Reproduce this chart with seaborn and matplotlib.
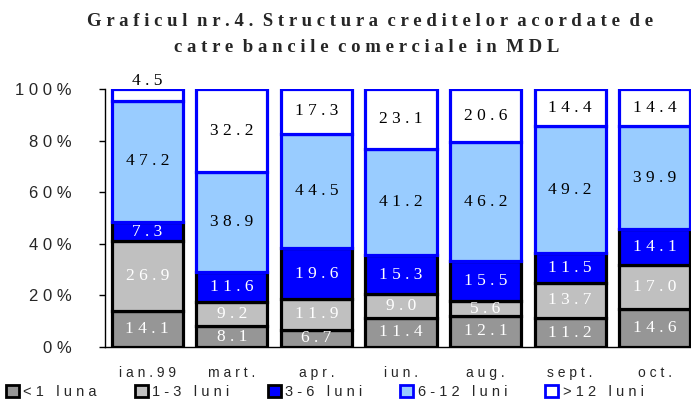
import numpy as np
import pandas as pd
import matplotlib
matplotlib.use("Agg")
import matplotlib.pyplot as plt
from matplotlib.patches import Patch
import seaborn as sns

categories = ["ian.99", "mart.", "apr.", "iun.", "aug.", "sept.", "oct."]
series_names = ["<1 luna", "1-3 luni", "3-6 luni", "6-12 luni", ">12 luni"]
lt1 = [14.1, 8.1, 6.7, 11.4, 12.1, 11.2, 14.6]
m1_3 = [26.9, 9.2, 11.9, 9.0, 5.6, 13.7, 17.0]
m3_6 = [7.3, 11.6, 19.6, 15.3, 15.5, 11.5, 14.1]
m6_12 = [47.2, 38.9, 44.5, 41.2, 46.2, 49.2, 39.9]
gt12 = [4.5, 32.2, 17.3, 23.1, 20.6, 14.4, 14.4]
yticks = [0, 20, 40, 60, 80, 100]

fills = ["#969696", "#C0C0C0", "#0000FF", "#99CCFF", "#FFFFFF"]
edges = ["#000000", "#000000", "#000000", "#0000FF", "#0000FF"]
text_colors = ["white", "white", "white", "black", "black"]

def spaced(s):
    return " ".join(s)

def spaced_words(s):
    return "  ".join(" ".join(w) for w in s.split(" "))

sns.set_style("white")
plt.rcParams["font.family"] = ["Liberation Sans", "DejaVu Sans"]

fig = plt.figure(figsize=(6.91, 4.01), dpi=100)
ax = fig.add_axes([105 / 691, 54 / 401, 592 / 691, 258 / 401])

all_series = [lt1, m1_3, m3_6, m6_12, gt12]
bottom = np.zeros(len(categories))
for k, (name, vals, fc, ec, tc) in enumerate(zip(series_names, all_series, fills, edges, text_colors)):
    df = pd.DataFrame({"cat": categories, "val": vals})
    sns.barplot(data=df, x="cat", y="val", order=categories, bottom=bottom,
                color=fc, edgecolor=ec, linewidth=2.3, width=0.84,
                saturation=1, ax=ax, errorbar=None)
    for i, v in enumerate(vals):
        if k == len(all_series) - 1 and v < 6:
            # too small: label sits just above the bar top
            ax.text(i, bottom[i] + v, spaced(f"{v:.1f}"), ha="center", va="bottom",
                    color=tc, fontsize=12.5, family=["Liberation Serif"], zorder=5,
                    clip_on=False)
        else:
            ax.text(i, bottom[i] + v / 2, spaced(f"{v:.1f}"), ha="center", va="center",
                    color=tc, fontsize=12.5, family=["Liberation Serif"], zorder=5)
    bottom = bottom + np.array(vals)

ax.set_xlim(-0.5, len(categories) - 0.5)
ax.set_ylim(0, 100)
ax.set_xlabel("")
ax.set_ylabel("")
ax.set_yticks(yticks)
ax.set_yticklabels([spaced(f"{t}%") for t in yticks], fontsize=12)
ax.set_xticks(range(len(categories)))
ax.set_xticklabels([spaced(c) for c in categories], fontsize=10)
ax.set_xticks(np.arange(-0.5, len(categories), 1), minor=True)
ax.tick_params(axis="x", which="major", length=0, pad=14)
ax.tick_params(axis="x", which="minor", length=4, direction="out", color="black", width=1)
ax.tick_params(axis="y", length=4, direction="out", color="black", width=1, pad=20, left=True)
for s in ["top", "right"]:
    ax.spines[s].set_visible(False)
for s in ["left", "bottom"]:
    ax.spines[s].set_color("black")
    ax.spines[s].set_linewidth(1)

fig.text(0.535, 1 - 22 / 401, spaced_words("Graficul nr.4. Structura creditelor acordate de"),
         ha="center", va="center", fontsize=13.5, fontweight="bold", family=["Liberation Serif"])
fig.text(0.53, 1 - 47 / 401, spaced_words("catre bancile comerciale in MDL"),
         ha="center", va="center", fontsize=13.5, fontweight="bold", family=["Liberation Serif"])

handles = [Patch(facecolor=fc, edgecolor=ec, linewidth=2) for fc, ec in zip(fills, edges)]
fig.legend(handles, [spaced(n) for n in series_names], loc="center",
           bbox_to_anchor=(0.47, 9 / 401), ncol=5, frameon=True, facecolor="white",
           edgecolor="white", framealpha=1, fontsize=10.5, handlelength=0.9,
           handleheight=0.9, handletextpad=0.3, columnspacing=2.6, borderpad=0.1)

fig.savefig("out.png", dpi=100)
